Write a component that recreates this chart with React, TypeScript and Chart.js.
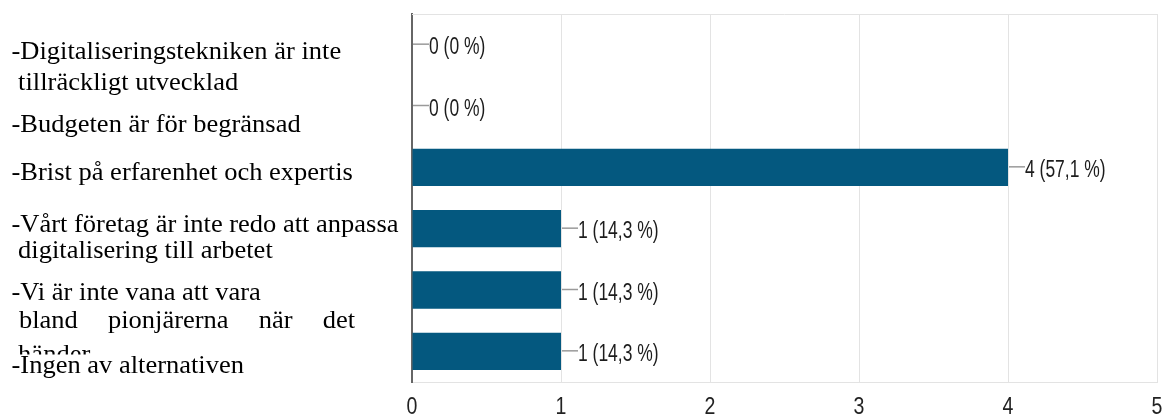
import React, { useEffect, useRef } from "react";
import { Chart, registerables } from "chart.js";

Chart.register(...registerables);

// ---- data ----
const categories: string[] = [
  "-Digitaliseringstekniken är inte\n tillräckligt utvecklad",
  "-Budgeten är för begränsad",
  "-Brist på erfarenhet och expertis",
  "-Vårt företag är inte redo att anpassa\n digitalisering till arbetet",
  "-Vi är inte vana att vara\n bland pionjärerna när det\n händer",
  "-Ingen av alternativen",
];
const counts: number[] = [0, 0, 4, 1, 1, 1];
const percentLabels: string[] = ["0 %", "0 %", "57,1 %", "14,3 %", "14,3 %", "14,3 %"];
const xTickValues: number[] = [0, 1, 2, 3, 4, 5];

// ---- layout / style (not data) ----
const BAR_COLOR = "#04587f";
const labelBaselines: number[][] = [[59, 90], [131.5], [180], [231.5, 258], [300, 328, 361.5], [372.5]];
const LABEL_X = 11.5;
const SERIF_SIZE = 25;
const SERIF_STRETCH = 1.06;
const JUSTIFY = { cat: 4, line: 1, left: 19, right: 355 };
const CLIP = { cat: 4, line: 2, bottom: 354.5 };
const DATA_NARROW = 0.76;
const TICK_NARROW = 0.85;

const leftLabelsPlugin = {
  id: "leftLabels",
  afterDraw(chart: any) {
    const ctx = chart.ctx as CanvasRenderingContext2D;
    ctx.save();
    ctx.fillStyle = "#000";
    ctx.font = `${SERIF_SIZE}px "Liberation Serif", "Times New Roman", serif`;
    ctx.textBaseline = "alphabetic";
    ctx.textAlign = "left";
    categories.forEach((cat, ci) => {
      const lines = cat.split("\n");
      lines.forEach((line, li) => {
        const y = labelBaselines[ci][li];
        ctx.save();
        if (ci === CLIP.cat && li === CLIP.line) {
          ctx.beginPath();
          ctx.rect(0, 0, 410, CLIP.bottom);
          ctx.clip();
        }
        ctx.scale(SERIF_STRETCH, 1);
        if (ci === JUSTIFY.cat && li === JUSTIFY.line) {
          const words = line.trim().split(/\s+/);
          const widths = words.map((w) => ctx.measureText(w).width);
          const total = widths.reduce((a, b) => a + b, 0);
          const left = JUSTIFY.left / SERIF_STRETCH;
          const right = JUSTIFY.right / SERIF_STRETCH;
          const gap = (right - left - total) / (words.length - 1);
          let x = left;
          words.forEach((w, wi) => {
            ctx.fillText(w, x, y);
            x += widths[wi] + gap;
          });
        } else {
          ctx.fillText(line, LABEL_X / SERIF_STRETCH, y);
        }
        ctx.restore();
      });
    });
    ctx.restore();
  },
};

const narrowTextPlugin = {
  id: "narrowText",
  afterDatasetsDraw(chart: any) {
    const ctx = chart.ctx as CanvasRenderingContext2D;
    const area = chart.chartArea;
    const xs = chart.scales.x;
    // top frame line
    ctx.save();
    ctx.strokeStyle = "#e3e3e3";
    ctx.lineWidth = 1;
    ctx.beginPath();
    ctx.moveTo(area.left, area.top + 0.5);
    ctx.lineTo(area.right, area.top + 0.5);
    ctx.stroke();
    ctx.restore();

    // data labels with leader lines
    const meta = chart.getDatasetMeta(0);
    meta.data.forEach((bar: any, i: number) => {
      const xEnd = xs.getPixelForValue(counts[i]);
      const y = bar.y;
      ctx.save();
      ctx.strokeStyle = "#9a9a9a";
      ctx.lineWidth = 1.5;
      ctx.beginPath();
      ctx.moveTo(xEnd + 1, y - 0.5);
      ctx.lineTo(xEnd + 17, y - 0.5);
      ctx.stroke();
      ctx.fillStyle = "#1c1c1c";
      ctx.font = `23px "Liberation Sans", Arial, sans-serif`;
      ctx.textBaseline = "alphabetic";
      ctx.textAlign = "left";
      ctx.translate(xEnd + 17, y + 9.5);
      ctx.scale(DATA_NARROW, 1);
      ctx.fillText(`${counts[i]} (${percentLabels[i]})`, 0, 0);
      ctx.restore();
    });

    // x tick labels
    xTickValues.forEach((v) => {
      const x = xs.getPixelForValue(v);
      ctx.save();
      ctx.fillStyle = "#222";
      ctx.font = `23px "Liberation Sans", Arial, sans-serif`;
      ctx.textBaseline = "alphabetic";
      ctx.textAlign = "center";
      ctx.translate(x, 413.5);
      ctx.scale(TICK_NARROW, 1);
      ctx.fillText(String(v), 0, 0);
      ctx.restore();
    });
  },
};

export default function App() {
  const ref = useRef<HTMLCanvasElement>(null);
  useEffect(() => {
    if (!ref.current) return;
    const chart = new Chart(ref.current, {
      type: "bar",
      data: {
        labels: categories,
        datasets: [
          {
            data: counts,
            backgroundColor: BAR_COLOR,
            categoryPercentage: 1,
            barPercentage: 0.61,
          },
        ],
      },
      options: {
        indexAxis: "y",
        animation: false,
        responsive: false,
        devicePixelRatio: 1,
        layout: { padding: { top: 14, right: 6, left: 0, bottom: 0 } },
        plugins: { legend: { display: false }, tooltip: { enabled: false } },
        scales: {
          x: {
            min: 0,
            max: 5,
            ticks: { stepSize: 1, display: false },
            grid: { color: "#e3e3e3", lineWidth: 1, drawTicks: false },
            border: { display: true, color: "#e3e3e3", width: 1 },
            afterFit: (s: any) => {
              s.height = 33;
            },
          },
          y: {
            ticks: { display: false },
            grid: { display: false },
            border: { display: true, color: "#666", width: 2 },
            afterFit: (s: any) => {
              s.width = 412;
            },
          },
        },
      } as any,
      plugins: [narrowTextPlugin, leftLabelsPlugin],
    });
    return () => chart.destroy();
  }, []);
  return (
    <div style={{ position: "fixed", left: 0, top: 0, width: 1163, height: 415, background: "#fff" }}>
      <canvas ref={ref} width={1163} height={415} style={{ display: "block" }} />
    </div>
  );
}
